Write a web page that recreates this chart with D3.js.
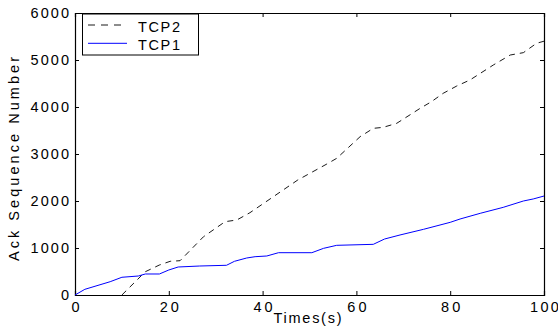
<!DOCTYPE html>
<html>
<head>
<meta charset="utf-8">
<script src="https://cdn.jsdelivr.net/npm/d3@7"></script>
<style>
body { margin: 0; background: #fff; }
text { font-family: "Liberation Sans", Arial, sans-serif; }
</style>
</head>
<body>
<script>
"use strict";
// time (s) and ack sequence number
const tcp1Time = [0, 2.1, 7.5, 10, 13.5, 15, 18, 20, 22, 26.6, 32.3, 34, 36.6, 38.4, 40.9, 43.4, 50.5, 53, 55.8, 63.6, 66, 69.3, 74.3, 80, 82.1, 86.4, 91.3, 95.6, 97.7, 100];
const tcp1Ack = [0, 121, 283, 377, 404, 447, 447, 532, 596, 617, 632, 717, 787, 815, 830, 900, 900, 993, 1057, 1078, 1191, 1277, 1397, 1546, 1617, 1738, 1865, 2000, 2043, 2106];
const tcp2Time = [10, 15, 18, 20.3, 22.4, 27.4, 32, 34.5, 37.3, 42.3, 47.5, 53.7, 55.8, 60.8, 63.6, 65.7, 68.6, 73.6, 76, 78.5, 81.4, 84.2, 89.2, 92.8, 95.6, 98.4, 100];
const tcp2Ack = [0, 496, 638, 717, 730, 1240, 1560, 1596, 1751, 2092, 2447, 2787, 2908, 3369, 3546, 3567, 3653, 3972, 4113, 4291, 4447, 4574, 4894, 5106, 5156, 5355, 5400];
const xTicks = [0, 20, 40, 60, 80, 100];
const yTicks = [0, 1000, 2000, 3000, 4000, 5000, 6000];
const legendNames = ["TCP2", "TCP1"];

function app() {
	const w = 558, h = 333;
	const m = {left: 75, right: 14, top: 13, bottom: 38};
	const fs = 14.5;
	const x = d3.scaleLinear().domain([0, 100]).range([m.left, w - m.right]);
	const y = d3.scaleLinear().domain([0, 6000]).range([h - m.bottom, m.top]);
	const svg = d3.select("body").append("svg").attr("width", w).attr("height", h);

	const tk = 4;
	// bottom / left axes with labels, ticks pointing inward
	const gx = svg.append("g").attr("transform", "translate(0," + (h - m.bottom) + ")")
		.call(d3.axisBottom(x).tickValues(xTicks).tickSize(-tk).tickPadding(7).tickFormat(d3.format("d")));
	const gy = svg.append("g").attr("transform", "translate(" + m.left + ",0)")
		.call(d3.axisLeft(y).tickValues(yTicks).tickSize(-tk).tickPadding(6).tickFormat(d3.format("d")));
	// top / right ticks only
	const gt = svg.append("g").attr("transform", "translate(0," + m.top + ")")
		.call(d3.axisTop(x).tickValues(xTicks).tickSize(-tk).tickFormat(""));
	const gr = svg.append("g").attr("transform", "translate(" + (w - m.right) + ",0)")
		.call(d3.axisRight(y).tickValues(yTicks).tickSize(-tk).tickFormat(""));
	[gx, gy, gt, gr].forEach(g => {
		g.selectAll("path.domain").attr("stroke", "#000").attr("stroke-width", 1.2);
		g.selectAll("line").attr("stroke", "#000");
		g.selectAll("text").attr("font-size", fs).attr("fill", "#000")
			.attr("font-family", "Liberation Sans, Arial, sans-serif")
			.each(function() {
				const t = d3.select(this);
				t.attr("textLength", t.text().length * 9.6).attr("lengthAdjust", "spacing");
			});
	});

	const line = d3.line().x(d => x(d[0])).y(d => y(d[1]));
	svg.append("path").datum(d3.zip(tcp2Time, tcp2Ack)).attr("d", line)
		.attr("fill", "none").attr("stroke", "#000").attr("stroke-width", 0.9).attr("stroke-dasharray", "6,5");
	svg.append("path").datum(d3.zip(tcp1Time, tcp1Ack)).attr("d", line)
		.attr("fill", "none").attr("stroke", "#0000ff").attr("stroke-width", 1);

	// axis titles
	svg.append("text").attr("x", 307.5).attr("y", 323).attr("text-anchor", "middle")
		.attr("font-size", fs).attr("textLength", 68).attr("lengthAdjust", "spacing").text("Times(s)");
	svg.append("text").attr("transform", "translate(18.5,159) rotate(-90)")
		.attr("text-anchor", "middle").attr("font-size", fs)
		.attr("textLength", 204).attr("lengthAdjust", "spacing").text("Ack Sequence Number");

	// legend
	const lg = svg.append("g");
	lg.append("rect").attr("x", 82.5).attr("y", 14).attr("width", 116).attr("height", 41)
		.attr("fill", "#fff").attr("stroke", "#000").attr("stroke-width", 1);
	const styles = [{c: "#000", d: "7,6", sw: 0.9}, {c: "#0000ff", d: null, sw: 1}];
	legendNames.forEach((n, i) => {
		const ly = 25 + i * 18.3;
		lg.append("line").attr("x1", 88).attr("x2", 127).attr("y1", ly).attr("y2", ly)
			.attr("stroke", styles[i].c).attr("stroke-width", styles[i].sw).attr("stroke-dasharray", styles[i].d);
		lg.append("text").attr("x", 138).attr("y", ly + 6.5).attr("font-size", fs)
			.attr("textLength", 42).attr("lengthAdjust", "spacing").text(n);
	});
}

app();
</script>
</body>
</html>
